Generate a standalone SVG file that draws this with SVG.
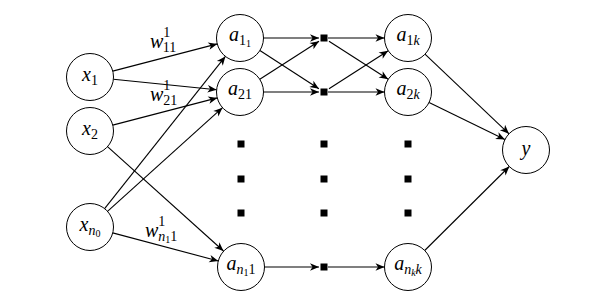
<svg xmlns="http://www.w3.org/2000/svg" width="615" height="301" viewBox="0 0 615 301">
<defs>
<marker id="arr" viewBox="-10 -5 12 10" markerWidth="12" markerHeight="10" refX="0" refY="0" orient="auto" markerUnits="userSpaceOnUse">
<path d="M0,0 L-9,-3.8 L-6.5,0 L-9,3.8 Z" fill="#000"/>
</marker>
</defs>
<style>
.n circle{fill:#fff;stroke:#000;stroke-width:1}
.t{font-family:"Liberation Serif","Times New Roman",serif;font-size:20px;fill:#000;text-anchor:middle}
.i{font-style:italic}
.s{font-size:14px}
.ss{font-size:10px}
.e line{stroke:#000;stroke-width:1.1;marker-end:url(#arr)}
.d rect{fill:#000}
.lb{font-family:"Liberation Serif","Times New Roman",serif;font-size:20px;fill:#000}
</style>
<rect width="615" height="301" fill="#fff"/>
<g id="connectors" class="e">
<line x1="112.7" y1="71.1" x2="217.3" y2="43.9"/>
<line x1="113.4" y1="79.3" x2="216.6" y2="89.7"/>
<line x1="112.7" y1="125.1" x2="217.3" y2="97.9"/>
<line x1="107.5" y1="146.7" x2="223.5" y2="251"/>
<line x1="104.6" y1="208.6" x2="225.4" y2="56.4"/>
<line x1="107.5" y1="211.3" x2="222.5" y2="107.7"/>
<line x1="112.7" y1="232.9" x2="218.3" y2="261"/>
<line x1="263.5" y1="38" x2="319" y2="38"/>
<line x1="259.9" y1="50.5" x2="318.9" y2="88.8"/>
<line x1="259.8" y1="79.3" x2="319" y2="41.2"/>
<line x1="263.5" y1="92" x2="319" y2="92"/>
<line x1="328" y1="38" x2="384.5" y2="38"/>
<line x1="329" y1="41.2" x2="388.2" y2="79.3"/>
<line x1="329" y1="88.8" x2="388.2" y2="50.7"/>
<line x1="328" y1="92" x2="384.5" y2="92"/>
<line x1="264.5" y1="267" x2="319" y2="267"/>
<line x1="328" y1="267" x2="384.5" y2="267"/>
<line x1="425" y1="54.2" x2="509" y2="133.8"/>
<line x1="429.1" y1="102.4" x2="504.9" y2="139.6"/>
<line x1="424.7" y1="250.5" x2="509.3" y2="166.5"/>
</g>
<g id="labels">
<text class="lb" x="150" y="48"><tspan class="i">w</tspan><tspan class="s" dy="-11">1</tspan><tspan class="s" dx="-7" dy="15">11</tspan></text>
<text class="lb" x="150" y="101"><tspan class="i">w</tspan><tspan class="s" dy="-11">1</tspan><tspan class="s" dx="-7" dy="15">21</tspan></text>
<text class="lb" x="145" y="237"><tspan class="i">w</tspan><tspan class="s" dy="-11">1</tspan><tspan class="s i" dx="-7" dy="15">n</tspan><tspan class="ss" dy="2">1</tspan><tspan class="s" dy="-2">1</tspan></text>
</g>
<g id="dots" class="d">
<rect x="237.5" y="140.5" width="7" height="7"/>
<rect x="237.5" y="175.5" width="7" height="7"/>
<rect x="237.5" y="209.5" width="7" height="7"/>
<rect x="320.5" y="140.5" width="7" height="7"/>
<rect x="320.5" y="175.5" width="7" height="7"/>
<rect x="320.5" y="209.5" width="7" height="7"/>
<rect x="404.5" y="140.5" width="7" height="7"/>
<rect x="404.5" y="175.5" width="7" height="7"/>
<rect x="404.5" y="209.5" width="7" height="7"/>
</g>
<g id="s1" class="d"><rect x="320.5" y="34.5" width="7" height="7"/></g>
<g id="s2" class="d"><rect x="320.5" y="88.5" width="7" height="7"/></g>
<g id="s3" class="d"><rect x="320.5" y="263.5" width="7" height="7"/></g>
<g id="x1" class="n"><circle cx="90" cy="77" r="23.5"/><text class="t" x="90" y="81"><tspan class="i">x</tspan><tspan class="s" dy="4">1</tspan></text></g>
<g id="x2" class="n"><circle cx="90" cy="131" r="23.5"/><text class="t" x="90" y="135"><tspan class="i">x</tspan><tspan class="s" dy="4">2</tspan></text></g>
<g id="xn0" class="n"><circle cx="90" cy="227" r="23.5"/><text class="t" x="90" y="231"><tspan class="i">x</tspan><tspan class="s i" dy="4">n</tspan><tspan class="ss" dy="2">0</tspan></text></g>
<g id="a11" class="n"><circle cx="240" cy="38" r="23.5"/><text class="t" x="240" y="41"><tspan class="i">a</tspan><tspan class="s" dy="4">1</tspan><tspan class="ss" dy="2">1</tspan></text></g>
<g id="a21" class="n"><circle cx="240" cy="92" r="23.5"/><text class="t" x="240" y="95"><tspan class="i">a</tspan><tspan class="s" dy="4">21</tspan></text></g>
<g id="an11" class="n"><circle cx="241" cy="267" r="23.5"/><text class="t" x="241" y="270"><tspan class="i">a</tspan><tspan class="s i" dy="4">n</tspan><tspan class="ss" dy="2">1</tspan><tspan class="s" dy="-2">1</tspan></text></g>
<g id="a1k" class="n"><circle cx="408" cy="38" r="23.5"/><text class="t" x="408" y="41"><tspan class="i">a</tspan><tspan class="s" dy="4">1</tspan><tspan class="s i">k</tspan></text></g>
<g id="a2k" class="n"><circle cx="408" cy="92" r="23.5"/><text class="t" x="408" y="95"><tspan class="i">a</tspan><tspan class="s" dy="4">2</tspan><tspan class="s i">k</tspan></text></g>
<g id="ankk" class="n"><circle cx="408" cy="267" r="23.5"/><text class="t" x="408" y="270"><tspan class="i">a</tspan><tspan class="s i" dy="4">n</tspan><tspan class="ss i" dy="2">k</tspan><tspan class="s i" dy="-2">k</tspan></text></g>
<g id="y" class="n"><circle cx="526" cy="150" r="23.5"/><text class="t i" x="526" y="155">y</text></g>
</svg>
